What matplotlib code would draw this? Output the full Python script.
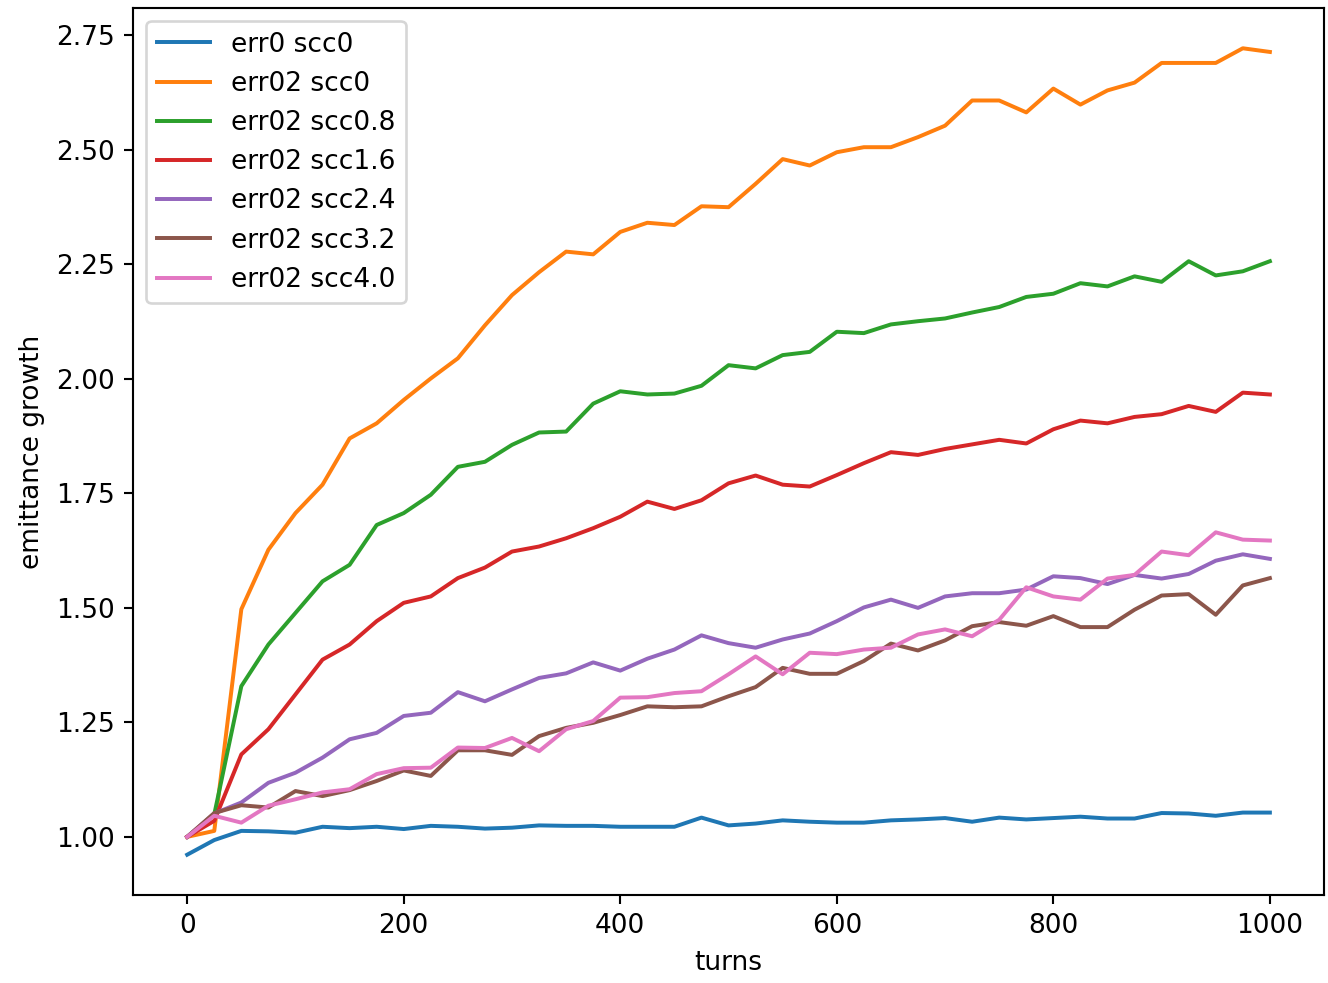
import matplotlib
matplotlib.use("Agg")
import matplotlib.pyplot as plt

# turns sampled every 25
turns = list(range(0, 1001, 25))

err0_scc0 = [
    0.961, 0.993, 1.013, 1.012, 1.009, 1.022, 1.019, 1.022, 1.017, 1.024,
    1.022, 1.018, 1.020, 1.025, 1.024, 1.024, 1.022, 1.022, 1.022, 1.042,
    1.025, 1.029, 1.036, 1.033, 1.031, 1.031, 1.036, 1.038, 1.041, 1.033,
    1.042, 1.038, 1.041, 1.044, 1.040, 1.040, 1.052, 1.051, 1.046, 1.053,
    1.053,
]
err02_scc0 = [
    1.000, 1.013, 1.497, 1.627, 1.707, 1.769, 1.870, 1.903, 1.954, 2.001,
    2.045, 2.117, 2.183, 2.233, 2.278, 2.272, 2.321, 2.341, 2.336, 2.377,
    2.375, 2.426, 2.480, 2.466, 2.495, 2.506, 2.506, 2.528, 2.553, 2.608,
    2.608, 2.582, 2.634, 2.599, 2.630, 2.647, 2.690, 2.690, 2.690, 2.722,
    2.714,
]
err02_scc08 = [
    1.000, 1.049, 1.329, 1.420, 1.489, 1.558, 1.594, 1.681, 1.707, 1.747,
    1.808, 1.819, 1.856, 1.883, 1.885, 1.946, 1.973, 1.966, 1.968, 1.985,
    2.030, 2.023, 2.052, 2.059, 2.103, 2.100, 2.119, 2.126, 2.132, 2.145,
    2.157, 2.179, 2.186, 2.209, 2.202, 2.224, 2.212, 2.257, 2.226, 2.235,
    2.257,
]
err02_scc16 = [
    1.000, 1.035, 1.180, 1.235, 1.311, 1.387, 1.420, 1.471, 1.511, 1.525,
    1.565, 1.588, 1.623, 1.634, 1.652, 1.674, 1.699, 1.732, 1.716, 1.735,
    1.772, 1.789, 1.769, 1.765, 1.790, 1.816, 1.840, 1.834, 1.847, 1.857,
    1.867, 1.859, 1.890, 1.909, 1.903, 1.917, 1.923, 1.941, 1.928, 1.970,
    1.966,
]
err02_scc24 = [
    1.000, 1.051, 1.075, 1.118, 1.140, 1.173, 1.213, 1.227, 1.264, 1.271,
    1.316, 1.296, 1.322, 1.347, 1.357, 1.381, 1.363, 1.389, 1.409, 1.440,
    1.423, 1.413, 1.431, 1.444, 1.471, 1.501, 1.518, 1.500, 1.525, 1.532,
    1.532, 1.540, 1.569, 1.565, 1.552, 1.572, 1.564, 1.574, 1.603, 1.617,
    1.607,
]
err02_scc32 = [
    1.000, 1.052, 1.069, 1.064, 1.100, 1.089, 1.102, 1.122, 1.145, 1.133,
    1.189, 1.189, 1.179, 1.220, 1.238, 1.249, 1.266, 1.285, 1.283, 1.285,
    1.307, 1.327, 1.369, 1.356, 1.356, 1.384, 1.422, 1.407, 1.429, 1.460,
    1.469, 1.461, 1.482, 1.458, 1.458, 1.496, 1.527, 1.530, 1.485, 1.549,
    1.565,
]
err02_scc40 = [
    1.000, 1.046, 1.031, 1.068, 1.082, 1.097, 1.104, 1.137, 1.150, 1.151,
    1.195, 1.194, 1.216, 1.187, 1.235, 1.253, 1.304, 1.305, 1.314, 1.318,
    1.355, 1.394, 1.355, 1.402, 1.399, 1.409, 1.413, 1.442, 1.453, 1.438,
    1.474, 1.545, 1.525, 1.518, 1.564, 1.572, 1.623, 1.615, 1.665, 1.649,
    1.647,
]

series = [err0_scc0, err02_scc0, err02_scc08, err02_scc16,
          err02_scc24, err02_scc32, err02_scc40]
labels = ['err0 scc0', 'err02 scc0', 'err02 scc0.8', 'err02 scc1.6',
          'err02 scc2.4', 'err02 scc3.2', 'err02 scc4.0']

fig = plt.figure(figsize=(1328 / 190, 983 / 190), dpi=190)
ax = fig.add_axes([0.1002, 0.0895, 0.8968, 0.9024])

for vals, lab in zip(series, labels):
    ax.plot(turns, vals, label=lab)

ax.set_xlabel('turns')
ax.set_ylabel('emittance growth')
ax.legend(loc='upper left')

fig.savefig('out.png', dpi=190)
